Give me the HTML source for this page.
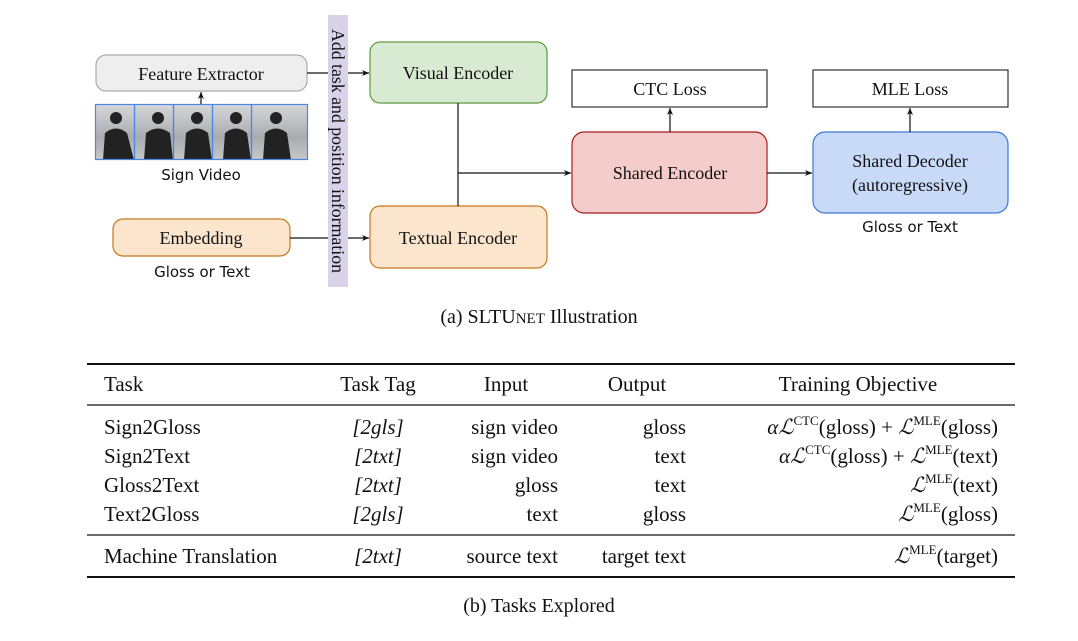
<!DOCTYPE html>
<html><head><meta charset="utf-8"><style>
html,body{margin:0;padding:0;background:#fff;}
svg{display:block;}
.s{font-family:"Liberation Serif",serif;fill:#111;}
.a{font-family:"DejaVu Sans","Liberation Sans",sans-serif;fill:#111;}
</style></head><body>
<svg width="1078" height="641" viewBox="0 0 1078 641" xmlns="http://www.w3.org/2000/svg">
<defs>
<marker id="ar" markerWidth="8" markerHeight="8" refX="7" refY="4" orient="auto" markerUnits="userSpaceOnUse">
<path d="M0,1 L7,4 L0,7 L2,4 Z" fill="#111"/></marker>
<linearGradient id="bg" x1="0" y1="0" x2="0" y2="1"><stop offset="0" stop-color="#d8d8da"/><stop offset="0.6" stop-color="#a9abae"/><stop offset="1" stop-color="#c8c8c8"/></linearGradient>
</defs>
<rect x="96" y="55" width="211" height="36" rx="10" fill="#eeeeee" stroke="#aaa" stroke-width="1.2"/>
<text class="s" x="201" y="80" font-size="18" text-anchor="middle">Feature Extractor</text>
<g>
<rect x="95" y="104" width="212" height="56" fill="url(#bg)"/>
<g fill="#222">
<circle cx="116" cy="118" r="6"/><path d="M103,160 L105,133 Q116,124 127,133 L134,160Z"/>
<circle cx="158" cy="118" r="6"/><path d="M144,160 L146,133 Q158,124 170,133 L173,160Z"/>
<circle cx="197" cy="118" r="6"/><path d="M184,160 L186,133 Q197,124 208,133 L212,160Z"/>
<circle cx="236" cy="118" r="6"/><path d="M223,160 L225,133 Q236,124 247,133 L251,160Z"/>
<circle cx="276" cy="118" r="6"/><path d="M263,160 L265,133 Q276,124 287,133 L291,160Z"/>
</g>
<g fill="none" stroke="#4a86e8" stroke-width="1.2">
<rect x="95.5" y="104.5" width="39" height="55"/><rect x="134.5" y="104.5" width="39" height="55"/>
<rect x="173.5" y="104.5" width="39" height="55"/><rect x="212.5" y="104.5" width="39" height="55"/>
<rect x="251.5" y="104.5" width="56" height="55"/></g>
</g>
<line x1="201" y1="104" x2="201" y2="92" stroke="#111" stroke-width="1.2" marker-end="url(#ar)"/>
<text class="a" x="201" y="180" font-size="15" text-anchor="middle">Sign Video</text>
<rect x="113" y="219" width="177" height="37" rx="10" fill="#fce5cd" stroke="#c5771f" stroke-width="1.2"/>
<text class="s" x="201" y="244" font-size="18" text-anchor="middle">Embedding</text>
<text class="a" x="202" y="277" font-size="15" text-anchor="middle">Gloss or Text</text>
<line x1="307" y1="73" x2="369" y2="73" stroke="#111" stroke-width="1.2" marker-end="url(#ar)"/>
<line x1="290" y1="238" x2="369" y2="238" stroke="#111" stroke-width="1.2" marker-end="url(#ar)"/>
<rect x="328" y="15" width="20" height="272" fill="#d9d2e9"/>
<text class="s" transform="translate(332,29) rotate(90)" font-size="17.5" textLength="244" lengthAdjust="spacingAndGlyphs">Add task and position information</text>
<rect x="370" y="42" width="177" height="61" rx="10" fill="#d9ead3" stroke="#5b9a3e" stroke-width="1.2"/>
<text class="s" x="458" y="79" font-size="18" text-anchor="middle">Visual Encoder</text>
<rect x="370" y="206" width="177" height="62" rx="10" fill="#fce5cd" stroke="#c5771f" stroke-width="1.2"/>
<text class="s" x="458" y="244" font-size="18" text-anchor="middle">Textual Encoder</text>
<line x1="458" y1="103" x2="458" y2="206" stroke="#111" stroke-width="1.2"/>
<line x1="458" y1="173" x2="571" y2="173" stroke="#111" stroke-width="1.2" marker-end="url(#ar)"/>
<rect x="572" y="132" width="195" height="81" rx="12" fill="#f4cccc" stroke="#a61c1c" stroke-width="1.2"/>
<text class="s" x="670" y="179" font-size="18" text-anchor="middle">Shared Encoder</text>
<rect x="572" y="70" width="195" height="37" fill="#fff" stroke="#333" stroke-width="1.2"/>
<text class="s" x="670" y="95" font-size="18" text-anchor="middle">CTC Loss</text>
<line x1="670" y1="132" x2="670" y2="108" stroke="#111" stroke-width="1.2" marker-end="url(#ar)"/>
<line x1="767" y1="173" x2="812" y2="173" stroke="#111" stroke-width="1.2" marker-end="url(#ar)"/>
<rect x="813" y="132" width="195" height="81" rx="12" fill="#c9daf8" stroke="#3c78d8" stroke-width="1.2"/>
<text class="s" x="910" y="167" font-size="18" text-anchor="middle">Shared Decoder</text>
<text class="s" x="910" y="191" font-size="18" text-anchor="middle">(autoregressive)</text>
<rect x="813" y="70" width="195" height="37" fill="#fff" stroke="#333" stroke-width="1.2"/>
<text class="s" x="910" y="95" font-size="18" text-anchor="middle">MLE Loss</text>
<line x1="910" y1="132" x2="910" y2="108" stroke="#111" stroke-width="1.2" marker-end="url(#ar)"/>
<text class="a" x="910" y="232" font-size="15" text-anchor="middle">Gloss or Text</text>
<text class="s" x="539" y="323" font-size="20" text-anchor="middle">(a) SLTU<tspan font-size="15">NET</tspan> Illustration</text>
<line x1="87" y1="364" x2="1015" y2="364" stroke="#111" stroke-width="2"/>
<line x1="87" y1="405" x2="1015" y2="405" stroke="#111" stroke-width="1.2"/>
<line x1="87" y1="535" x2="1015" y2="535" stroke="#111" stroke-width="1.2"/>
<line x1="87" y1="577" x2="1015" y2="577" stroke="#111" stroke-width="2"/>
<g class="s" font-size="21">
<text x="104" y="391">Task</text>
<text x="378" y="391" text-anchor="middle">Task Tag</text>
<text x="506" y="391" text-anchor="middle">Input</text>
<text x="637" y="391" text-anchor="middle">Output</text>
<text x="858" y="391" text-anchor="middle">Training Objective</text>

<text x="104" y="434">Sign2Gloss</text>
<text x="378" y="434" text-anchor="middle" font-style="italic">[2gls]</text>
<text x="558" y="434" text-anchor="end">sign video</text>
<text x="686" y="434" text-anchor="end">gloss</text>
<text x="998" y="434" text-anchor="end"><tspan font-style="italic">α</tspan><tspan font-style="italic" font-family="DejaVu Serif">ℒ</tspan><tspan font-size="13" dy="-9">CTC</tspan><tspan dy="9">(gloss) + </tspan><tspan font-style="italic" font-family="DejaVu Serif">ℒ</tspan><tspan font-size="13" dy="-9">MLE</tspan><tspan dy="9">(gloss)</tspan></text>

<text x="104" y="463">Sign2Text</text>
<text x="378" y="463" text-anchor="middle" font-style="italic">[2txt]</text>
<text x="558" y="463" text-anchor="end">sign video</text>
<text x="686" y="463" text-anchor="end">text</text>
<text x="998" y="463" text-anchor="end"><tspan font-style="italic">α</tspan><tspan font-style="italic" font-family="DejaVu Serif">ℒ</tspan><tspan font-size="13" dy="-9">CTC</tspan><tspan dy="9">(gloss) + </tspan><tspan font-style="italic" font-family="DejaVu Serif">ℒ</tspan><tspan font-size="13" dy="-9">MLE</tspan><tspan dy="9">(text)</tspan></text>

<text x="104" y="492">Gloss2Text</text>
<text x="378" y="492" text-anchor="middle" font-style="italic">[2txt]</text>
<text x="558" y="492" text-anchor="end">gloss</text>
<text x="686" y="492" text-anchor="end">text</text>
<text x="998" y="492" text-anchor="end"><tspan font-style="italic" font-family="DejaVu Serif">ℒ</tspan><tspan font-size="13" dy="-9">MLE</tspan><tspan dy="9">(text)</tspan></text>

<text x="104" y="521">Text2Gloss</text>
<text x="378" y="521" text-anchor="middle" font-style="italic">[2gls]</text>
<text x="558" y="521" text-anchor="end">text</text>
<text x="686" y="521" text-anchor="end">gloss</text>
<text x="998" y="521" text-anchor="end"><tspan font-style="italic" font-family="DejaVu Serif">ℒ</tspan><tspan font-size="13" dy="-9">MLE</tspan><tspan dy="9">(gloss)</tspan></text>

<text x="104" y="563">Machine Translation</text>
<text x="378" y="563" text-anchor="middle" font-style="italic">[2txt]</text>
<text x="558" y="563" text-anchor="end">source text</text>
<text x="686" y="563" text-anchor="end">target text</text>
<text x="998" y="563" text-anchor="end"><tspan font-style="italic" font-family="DejaVu Serif">ℒ</tspan><tspan font-size="13" dy="-9">MLE</tspan><tspan dy="9">(target)</tspan></text>
</g>
<text class="s" x="539" y="612" font-size="20" text-anchor="middle">(b)  Tasks Explored</text>
</svg>
</body></html>
